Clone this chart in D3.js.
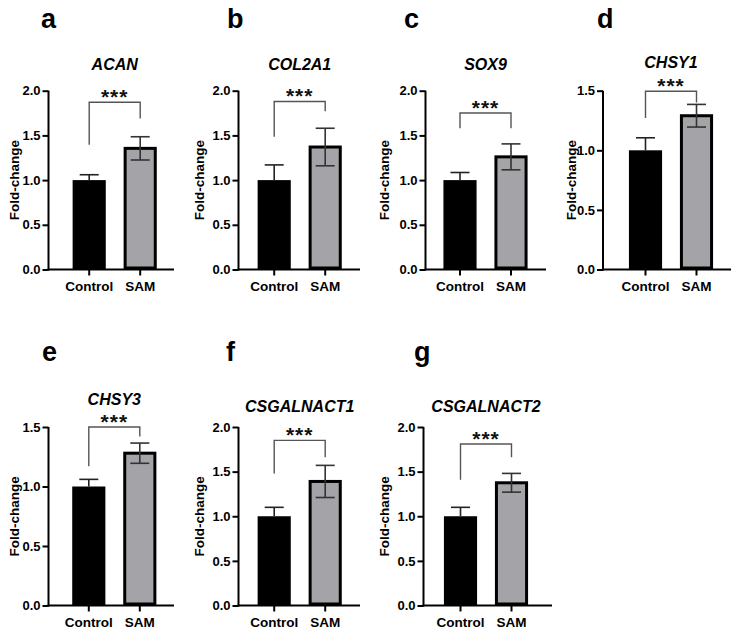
<!DOCTYPE html>
<html>
<head>
<meta charset="utf-8">
<script src="https://cdn.jsdelivr.net/npm/d3@7"></script>
<style>
  html, body { margin: 0; padding: 0; background: #fff; }
  svg { display: block; font-family: Arial, "Liberation Sans", Helvetica, sans-serif; }
</style>
</head>
<body>
<svg id="chart" width="738" height="635"></svg>
<script>
// ---- data ----
const categories = ["Control", "SAM"];
const panelLetters = ["a", "b", "c", "d", "e", "f", "g"];
const genes = ["ACAN", "COL2A1", "SOX9", "CHSY1", "CHSY3", "CSGALNACT1", "CSGALNACT2"];
const controlMeans = [1.0, 1.0, 1.0, 1.0, 1.0, 1.0, 1.0];
const controlErr   = [0.06, 0.17, 0.085, 0.105, 0.06, 0.10, 0.10];
const samMeans     = [1.355, 1.37, 1.26, 1.29, 1.28, 1.39, 1.375];
const samErr       = [0.13, 0.21, 0.145, 0.095, 0.085, 0.18, 0.105];
const yMax         = [2.0, 2.0, 2.0, 1.5, 1.5, 2.0, 2.0];
const ticks2       = [0.0, 0.5, 1.0, 1.5, 2.0];
const ticks15      = [0.0, 0.5, 1.0, 1.5];
const bracketTop   = [1.87, 1.88, 1.75, 1.495, 1.5, 1.85, 1.81];
const bracketLeft  = [1.395, 1.485, 1.58, 1.27, 1.17, 1.48, 1.41];
const bracketRight = [1.69, 1.77, 1.58, 1.40, 1.42, 1.66, 1.66];
const sigLabel = "***";
const yTitle = "Fold-change";

// ---- layout ----
const layout = [
  {axisX: 48.5, ctrl: 89.2, axisEnd: 174, row: 0, letterX: 41, yLabX: 14},
  {axisX: 238.5, ctrl: 274.2, axisEnd: 360, row: 0, letterX: 227, yLabX: 199},
  {axisX: 425.5, ctrl: 460, axisEnd: 546, row: 0, letterX: 404, yLabX: 384},
  {axisX: 603, ctrl: 645.5, axisEnd: 731, row: 0, letterX: 597, yLabX: 571},
  {axisX: 48.5, ctrl: 88.8, axisEnd: 174, row: 1, letterX: 42, yLabX: 14},
  {axisX: 238.5, ctrl: 274.2, axisEnd: 360, row: 1, letterX: 226, yLabX: 199},
  {axisX: 423.5, ctrl: 460.5, axisEnd: 552, row: 1, letterX: 414, yLabX: 384}
];
const rows = [{y0: 269.5, y1: 90.7}, {y0: 605.5, y1: 427}];
const titleY = [70, 70, 70, 68, 405, 412, 412];
const step = 51;

const svg = d3.select("#chart");
const FONT = "Arial, 'Liberation Sans', Helvetica, sans-serif";

genes.forEach((gene, i) => {
  const L = layout[i];
  const R = rows[L.row];
  const g = svg.append("g");

  const x = d3.scaleBand()
    .domain(categories)
    .range([L.ctrl - step / 2, L.ctrl + 1.5 * step])
    .paddingInner(0.35)
    .paddingOuter(0.175);
  const y = d3.scaleLinear().domain([0, yMax[i]]).range([R.y0, R.y1]);
  const cx = c => x(c) + x.bandwidth() / 2;

  const means = [controlMeans[i], samMeans[i]];
  const errs = [controlErr[i], samErr[i]];
  const fills = ["#000000", "#a4a4a8"];

  // bars
  categories.forEach((c, k) => {
    const sw = k === 1 ? 3 : 0;
    g.append("rect")
      .attr("x", x(c) + sw / 2)
      .attr("y", y(means[k]))
      .attr("width", x.bandwidth() - sw)
      .attr("height", y(0) - y(means[k]) - sw / 2)
      .attr("fill", fills[k])
      .attr("stroke", k === 1 ? "#000" : "none")
      .attr("stroke-width", sw);
  });

  // error bars
  categories.forEach((c, k) => {
    const xc = cx(c);
    const top = y(means[k] + errs[k]);
    const bot = y(means[k] - errs[k]);
    const col = k === 0 ? "#222" : "#333";
    g.append("line").attr("x1", xc).attr("x2", xc).attr("y1", top).attr("y2", k === 0 ? y(means[k]) : bot)
      .attr("stroke", col).attr("stroke-width", 1.6);
    g.append("line").attr("x1", xc - 9.5).attr("x2", xc + 9.5).attr("y1", top).attr("y2", top)
      .attr("stroke", col).attr("stroke-width", 1.6);
    if (k === 1) {
      g.append("line").attr("x1", xc - 9.5).attr("x2", xc + 9.5).attr("y1", bot).attr("y2", bot)
        .attr("stroke", col).attr("stroke-width", 1.6);
    }
  });

  // y axis
  const ticks = yMax[i] === 2.0 ? ticks2 : ticks15;
  const yAxis = d3.axisLeft(y).tickValues(ticks).tickFormat(d3.format(".1f")).tickSize(6).tickPadding(2);
  const ya = g.append("g").attr("transform", `translate(${L.axisX},0)`).call(yAxis);
  ya.select(".domain").attr("stroke", "#000").attr("stroke-width", 2).attr("d", `M0,${R.y0 + 1}V${R.y1}`);
  ya.selectAll(".tick line").attr("stroke", "#000").attr("stroke-width", 2);
  ya.selectAll(".tick text").attr("font-family", FONT).attr("font-size", 13).attr("font-weight", "bold").attr("fill", "#000");

  // x axis
  const xAxis = d3.axisBottom(x).tickSize(6).tickPadding(6);
  const xa = g.append("g").attr("transform", `translate(0,${R.y0})`).call(xAxis);
  xa.select(".domain").attr("stroke", "#000").attr("stroke-width", 2).attr("d", `M${L.axisX - 1},0H${L.axisEnd}`);
  xa.selectAll(".tick line").attr("stroke", "#000").attr("stroke-width", 2);
  xa.selectAll(".tick text").attr("font-family", FONT).attr("font-size", 13.5).attr("font-weight", "bold").attr("fill", "#000");

  // significance bracket
  const xl = cx(categories[0]), xr = cx(categories[1]);
  g.append("path")
    .attr("d", `M${xl},${y(bracketLeft[i])}V${y(bracketTop[i])}H${xr}V${y(bracketRight[i])}`)
    .attr("fill", "none").attr("stroke", "#555").attr("stroke-width", 1.4);
  g.append("text")
    .attr("x", (xl + xr) / 2).attr("y", y(bracketTop[i]) + 2)
    .attr("text-anchor", "middle")
    .attr("font-family", FONT).attr("font-size", 21).attr("font-weight", "bold")
    .attr("letter-spacing", 1)
    .attr("fill", "#111")
    .text(sigLabel);

  // gene title
  g.append("text")
    .attr("x", (xl + xr) / 2).attr("y", titleY[i])
    .attr("text-anchor", "middle")
    .attr("font-family", FONT).attr("font-size", 16).attr("font-weight", "bold").attr("font-style", "italic")
    .attr("fill", "#000")
    .text(gene);

  // panel letter
  g.append("text")
    .attr("x", L.letterX).attr("y", L.row === 0 ? 28 : 361)
    .attr("font-family", FONT).attr("font-size", 27).attr("font-weight", "bold")
    .attr("fill", "#000")
    .text(panelLetters[i]);

  // y title
  g.append("text")
    .attr("transform", `translate(${L.yLabX},${(R.y0 + R.y1) / 2}) rotate(-90)`)
    .attr("text-anchor", "middle").attr("dominant-baseline", "central")
    .attr("font-family", FONT).attr("font-size", 13.5).attr("font-weight", "bold")
    .attr("fill", "#000")
    .text(yTitle);
});
</script>
</body>
</html>
